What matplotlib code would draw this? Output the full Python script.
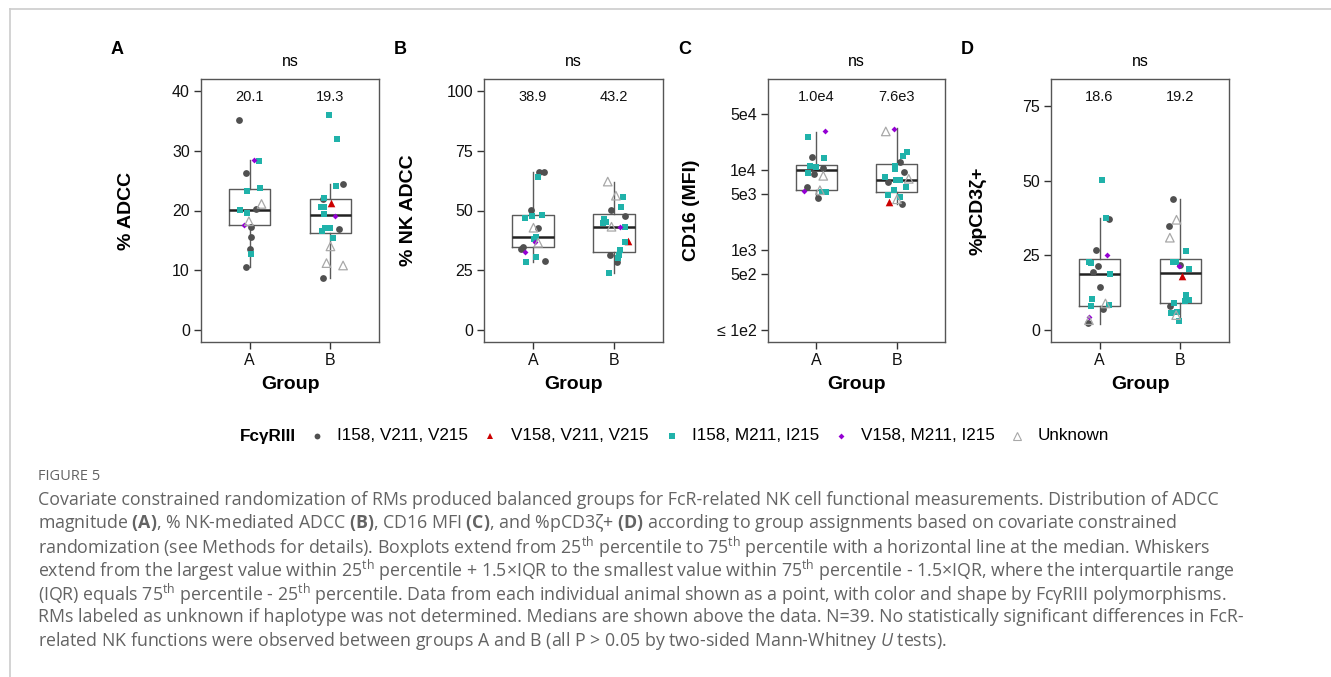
import matplotlib
matplotlib.use('Agg')
import matplotlib.pyplot as plt
from matplotlib.lines import Line2D
import matplotlib.transforms as mtransforms
import numpy as np

plt.rcParams['font.family'] = ['Liberation Sans', 'DejaVu Sans']
plt.rcParams['mathtext.fontset'] = 'custom'
plt.rcParams['mathtext.rm'] = 'Open Sans'
plt.rcParams['mathtext.bf'] = 'Open Sans:bold'
plt.rcParams['mathtext.it'] = 'Open Sans:italic'

# genotype legend
geno_labels = ['I158, V211, V215', 'V158, V211, V215', 'I158, M211, I215', 'V158, M211, I215', 'Unknown']
geno_marker = ['o', '^', 's', 'D', '^']
geno_color = ['#505050', '#CC0000', '#20B2AA', '#9400D3', '#A8A8A8']
geno_size = [24, 30, 24, 9, 38]

groups = ['A', 'B']

# ---- panel A: % ADCC ----
adcc_x = [0.873, 1.057, 1.119, 0.955, 0.967, 1.127, 1.148, 1.078, 0.881, 0.971, 0.992, 0.934, 1.016, 1.020, 1.000, 1.016, 0.959,
          1.988, 2.078, 2.152, 2.066, 1.918, 1.910, 2.008, 1.889, 1.926, 1.918, 2.057, 2.111, 1.992, 1.930, 1.898, 2.029, 2.000, 1.951, 2.156, 1.902]
adcc_y = [35.2, 28.5, 28.3, 26.3, 23.2, 23.8, 21.1, 20.2, 20.1, 19.6, 18.2, 17.5, 17.3, 15.6, 13.6, 12.8, 10.6,
          36.0, 32.0, 24.4, 24.1, 22.1, 21.9, 21.3, 20.6, 20.6, 19.4, 19.0, 16.9, 17.1, 17.0, 16.5, 15.4, 14.0, 11.2, 10.8, 8.7]
adcc_g = [0, 3, 2, 0, 2, 2, 4, 0, 2, 2, 4, 3, 0, 0, 0, 2, 0,
          2, 2, 0, 2, 2, 0, 1, 2, 2, 2, 3, 0, 2, 2, 2, 2, 4, 4, 4, 0]
adcc_q1 = [17.5, 16.3]
adcc_med = [20.1, 19.3]
adcc_q3 = [23.6, 21.9]
adcc_lo = [10.6, 8.7]
adcc_hi = [28.5, 24.4]
adcc_lab = ['20.1', '19.3']

# ---- panel B: % NK ADCC ----
nk_x = [1.079, 1.136, 1.058, 0.983, 0.909, 0.996, 1.116, 1.008, 1.066, 1.045, 1.066, 1.029, 1.017, 0.876, 0.851, 0.905, 1.041, 0.913, 1.145,
        1.921, 2.021, 2.112, 2.079, 1.959, 2.128, 1.880, 1.897, 1.864, 1.967, 2.074, 2.136, 2.128, 2.165, 2.074, 2.058, 1.946, 2.041, 2.033, 1.938]
nk_y = [66.1, 66.1, 64.2, 50.1, 46.7, 47.8, 48.0, 42.8, 42.8, 39.1, 36.5, 36.8, 37.9, 34.9, 34.0, 32.8, 30.5, 28.3, 28.7,
        62.1, 56.2, 55.8, 51.6, 50.1, 47.8, 46.6, 45.3, 44.6, 43.2, 43.2, 43.0, 36.8, 37.4, 33.5, 31.4, 31.4, 30.0, 28.6, 23.8]
nk_g = [0, 0, 2, 0, 2, 2, 2, 4, 0, 2, 4, 3, 2, 0, 0, 3, 2, 2, 0,
        4, 4, 2, 2, 0, 0, 2, 2, 2, 4, 3, 2, 2, 1, 2, 2, 0, 2, 0, 2]
nk_q1 = [34.6, 32.8]
nk_med = [38.9, 43.2]
nk_q3 = [48.0, 48.5]
nk_lo = [28.6, 23.7]
nk_hi = [66.0, 62.1]
nk_lab = ['38.9', '43.2']

# ---- panel C: CD16 (MFI) ----
cd16_x = [1.112, 0.901, 0.946, 1.091, 0.921, 0.950, 1.000, 1.079, 0.897, 0.967, 1.087, 0.888, 1.045, 0.851, 1.066, 1.124, 1.025,
          1.971, 1.864, 2.132, 2.083, 2.041, 1.983, 1.979, 2.095, 1.851, 2.149, 1.996, 2.045, 1.893, 2.112, 1.967, 1.888, 2.037, 2.004, 1.901, 2.066]
cd16_y = [30500, 25700, 14400, 14000, 11400, 11100, 11000, 10600, 9170, 8830, 8490, 6120, 5610, 5450, 5300, 5300, 4500,
          33000, 30500, 16700, 14900, 12500, 11400, 10300, 9350, 8240, 7780, 7560, 7560, 7060, 6230, 5610, 4950, 4670, 4320, 4050, 3780]
cd16_g = [3, 2, 0, 2, 2, 0, 2, 0, 2, 0, 4, 0, 4, 3, 2, 2, 0,
          3, 4, 2, 2, 0, 2, 2, 0, 2, 4, 2, 2, 0, 2, 2, 2, 2, 4, 1, 0]
cd16_q1 = [5710, 5400]
cd16_med = [10000, 7600]
cd16_q3 = [11450, 11900]
cd16_lo = [4460, 3780]
cd16_hi = [30200, 33300]
cd16_lab = ['1.0e4', '7.6e3']
cd16_ticks = [100, 500, 1000, 5000, 10000, 50000]
cd16_ticklabels = ['\u2264 1e2', '5e2', '1e3', '5e3', '1e4', '5e4']

# ---- panel D: %pCD3ζ+ ----
cd3_x = [1.029, 1.078, 1.118, 0.951, 1.090, 0.869, 0.894, 0.976, 0.914, 1.131, 1.004, 0.910, 0.898, 1.073, 1.118, 1.045, 0.865, 0.869, 0.857,
         1.906, 1.857, 1.951, 1.869, 2.069, 1.906, 1.947, 1.996, 1.988, 2.102, 2.020, 2.069, 2.073, 2.102, 2.053, 1.918, 1.865, 1.878, 1.947, 1.959, 1.988]
cd3_y = [50.1, 37.6, 37.3, 26.7, 25.0, 22.8, 22.3, 21.4, 19.3, 18.6, 14.5, 10.5, 8.2, 8.9, 8.3, 6.9, 4.5, 3.3, 2.2,
         44.0, 34.9, 36.9, 30.9, 26.4, 22.8, 22.8, 21.6, 21.3, 20.4, 18.1, 11.6, 10.5, 10.0, 9.8, 9.2, 8.2, 5.8, 5.0, 6.2, 3.0]
cd3_g = [2, 2, 0, 0, 3, 2, 2, 0, 0, 2, 0, 2, 2, 4, 2, 0, 3, 4, 0,
         0, 0, 4, 4, 2, 2, 2, 0, 3, 2, 1, 2, 2, 2, 2, 2, 0, 2, 4, 2, 2]
cd3_q1 = [8.2, 9.1]
cd3_med = [18.6, 19.2]
cd3_q3 = [23.8, 23.8]
cd3_lo = [2.0, 3.0]
cd3_hi = [37.6, 43.7]
cd3_lab = ['18.6', '19.2']

W, H = 1331, 677
fig = plt.figure(figsize=(W / 100, H / 100), dpi=100)


def px_axes(x0, x1, y0, y1):
    return fig.add_axes([x0 / W, 1 - y1 / H, (x1 - x0) / W, (y1 - y0) / H])


def panel(ax, xs, ys, gs, q1, med, q3, lo, hi, labels, ylabel, letter):
    stats = []
    for i in range(2):
        stats.append(dict(med=med[i], q1=q1[i], q3=q3[i], whislo=lo[i], whishi=hi[i], fliers=[]))
    ax.bxp(stats, positions=[1, 2], widths=0.51, showcaps=False, showfliers=False,
           boxprops=dict(color='#5a5a5a', lw=1.0),
           whiskerprops=dict(color='#5a5a5a', lw=1.0),
           medianprops=dict(color='#222222', lw=1.8), zorder=1)
    xs = np.array(xs); ys = np.array(ys); gs = np.array(gs)
    for k in range(5):
        m = gs == k
        if k == 4:
            ax.scatter(xs[m], ys[m], marker=geno_marker[k], s=geno_size[k], facecolors='none',
                       edgecolors=geno_color[k], linewidths=0.9, zorder=3)
        else:
            ax.scatter(xs[m], ys[m], marker=geno_marker[k], s=geno_size[k], color=geno_color[k],
                       linewidths=0, zorder=3)
    tr = mtransforms.blended_transform_factory(ax.transData, ax.transAxes)
    for i in range(2):
        ax.text(i + 1, 0.932, labels[i], transform=tr, ha='center', va='center', fontsize=10.5, color='#111111')
    ax.set_xlim(0.4, 2.6)
    ax.set_xticks([1, 2])
    ax.set_xticklabels(groups)
    ax.set_xlabel('Group', fontsize=14, fontweight='bold')
    ax.xaxis.set_label_coords(0.5, -0.13)
    ax.set_ylabel(ylabel, fontsize=14, fontweight='bold')
    ax.tick_params(labelsize=11.5, length=5, width=1, color='#333333', labelcolor='#111111', pad=3)
    for s in ax.spines.values():
        s.set_color('#555555')
        s.set_linewidth(1.0)
    bb = ax.get_position()
    fig.text((bb.x0 + bb.x1) / 2, 1 - 62 / H, 'ns', ha='center', va='center', fontsize=11.5)
    fig.text(bb.x0 - 90 / W, 1 - 50 / H, letter, ha='left', va='center', fontsize=13, fontweight='bold')


ax1 = px_axes(201, 379, 79, 342)
panel(ax1, adcc_x, adcc_y, adcc_g, adcc_q1, adcc_med, adcc_q3, adcc_lo, adcc_hi, adcc_lab, '% ADCC', 'A')
ax1.set_ylim(-2, 42)
ax1.set_yticks([0, 10, 20, 30, 40])
ax1.yaxis.set_label_coords(-0.37, 0.5)

ax2 = px_axes(484, 663, 79, 342)
panel(ax2, nk_x, nk_y, nk_g, nk_q1, nk_med, nk_q3, nk_lo, nk_hi, nk_lab, '% NK ADCC', 'B')
ax2.set_ylim(-5, 105)
ax2.set_yticks([0, 25, 50, 75, 100])
ax2.yaxis.set_label_coords(-0.374, 0.5)

ax3 = px_axes(768, 945, 79, 342)
panel(ax3, cd16_x, cd16_y, cd16_g, cd16_q1, cd16_med, cd16_q3, cd16_lo, cd16_hi, cd16_lab, 'CD16 (MFI)', 'C')
ax3.set_yscale('log')
ax3.set_ylim(10 ** 1.85, 10 ** 5.14)
ax3.set_yticks(cd16_ticks)
ax3.set_yticklabels(cd16_ticklabels)
ax3.minorticks_off()
ax3.yaxis.set_label_coords(-0.384, 0.5)

ax4 = px_axes(1051, 1229, 79, 342)
panel(ax4, cd3_x, cd3_y, cd3_g, cd3_q1, cd3_med, cd3_q3, cd3_lo, cd3_hi, cd3_lab, '%pCD3\u03b6+', 'D')
ax4.set_ylim(-4, 84)
ax4.set_yticks([0, 25, 50, 75])
ax4.yaxis.set_label_coords(-0.36, 0.5)

# legend, laid out by hand in one row
leg_y = 1 - 436 / H
fig.text(240 / W, leg_y, 'Fc\u03b3RIII', ha='left', va='center', fontsize=12.3, fontweight='bold')
leg_mark_x = [317, 490, 672, 841, 1017]
leg_text_x = [337, 511, 692, 861, 1038]
for k in range(5):
    if k == 4:
        h = Line2D([leg_mark_x[k] / W], [leg_y], ls='none', marker=geno_marker[k], markersize=5.5,
                   markerfacecolor='none', markeredgecolor=geno_color[k], markeredgewidth=0.8)
    else:
        h = Line2D([leg_mark_x[k] / W], [leg_y], ls='none', marker=geno_marker[k],
                   markersize=4.2 if k != 3 else 3, color=geno_color[k], markeredgewidth=0)
    fig.add_artist(h)
    fig.text(leg_text_x[k] / W, leg_y, geno_labels[k], ha='left', va='center', fontsize=12.3)

# page border
fig.add_artist(Line2D([10 / W, 1], [1 - 9 / H, 1 - 9 / H], color='#cccccc', lw=1.2))
fig.add_artist(Line2D([10 / W, 10 / W], [0, 1 - 9 / H], color='#cccccc', lw=1.2))

# caption
cap_col = '#636363'
cap_font = ['Open Sans', 'DejaVu Sans']
fig.text(38 / W, 1 - 477 / H, 'FIGURE 5', ha='left', va='center', fontsize=10.5, color=cap_col, family=cap_font)
cap_lines = [
    'Covariate constrained randomization of RMs produced balanced groups for FcR-related NK cell functional measurements. Distribution of ADCC',
    'magnitude $\\mathbf{(A)}$, % NK-mediated ADCC $\\mathbf{(B)}$, CD16 MFI $\\mathbf{(C)}$, and %pCD3\u03b6+ $\\mathbf{(D)}$ according to group assignments based on covariate constrained',
    'randomization (see Methods for details). Boxplots extend from 25$^{\\mathrm{th}}$ percentile to 75$^{\\mathrm{th}}$ percentile with a horizontal line at the median. Whiskers',
    'extend from the largest value within 25$^{\\mathrm{th}}$ percentile + 1.5\u00d7IQR to the smallest value within 75$^{\\mathrm{th}}$ percentile - 1.5\u00d7IQR, where the interquartile range',
    '(IQR) equals 75$^{\\mathrm{th}}$ percentile - 25$^{\\mathrm{th}}$ percentile. Data from each individual animal shown as a point, with color and shape by Fc\u03b3RIII polymorphisms.',
    'RMs labeled as unknown if haplotype was not determined. Medians are shown above the data. N=39. No statistically significant differences in FcR-',
    'related NK functions were observed between groups A and B (all P > 0.05 by two-sided Mann-Whitney $\\mathit{U}$ tests).',
]
cap_y = [500, 523, 547, 570, 594, 617, 641]
for line, yy in zip(cap_lines, cap_y):
    fig.text(38 / W, 1 - yy / H, line, ha='left', va='center', fontsize=12.8, color=cap_col, family=cap_font)

fig.savefig('out.png', dpi=100)
